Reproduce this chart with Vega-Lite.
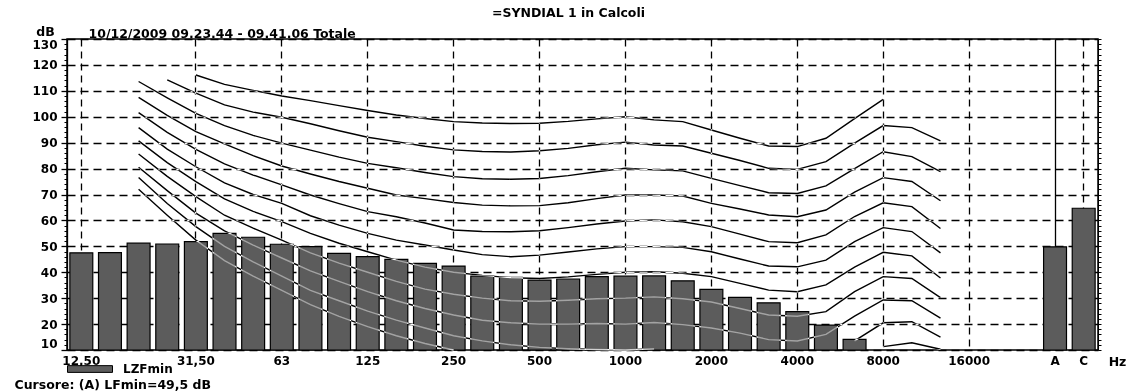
{
  "$schema": "https://vega.github.io/schema/vega-lite/v6.json",
  "autosize": {"type": "none"},
  "padding": {"left": 67, "top": 39, "right": 30, "bottom": 41},
  "width": 1031,
  "height": 311,
  "background": "white",
  "title": {"text": "=SYNDIAL 1 in Calcoli", "anchor": "middle", "font": "DejaVu Sans", "fontSize": 12.5, "fontWeight": "bold", "color": "black", "offset": 6, "dx": -14},
  "config": {
    "view": {"stroke": "black", "strokeWidth": 1.5},
    "axis": {"labelFont": "DejaVu Sans", "labelFontWeight": "bold", "labelFontSize": 12, "labelColor": "black", "titleFont": "DejaVu Sans", "titleFontWeight": "bold", "titleFontSize": 12.5, "titleColor": "black", "domainColor": "black", "tickColor": "black", "gridColor": "black", "gridOpacity": 1},
    "legend": {"labelFont": "DejaVu Sans", "labelFontWeight": "bold", "labelFontSize": 12, "labelColor": "black"}
  },
  "datasets": {
    "bars": [
      {"band": "12,50", "f": 12.5, "LZFmin": 47.5},
      {"band": "16", "f": 16, "LZFmin": 47.6},
      {"band": "20", "f": 20, "LZFmin": 51.2},
      {"band": "25", "f": 25, "LZFmin": 50.9},
      {"band": "31,50", "f": 31.5, "LZFmin": 51.8},
      {"band": "40", "f": 40, "LZFmin": 55.0},
      {"band": "50", "f": 50, "LZFmin": 53.5},
      {"band": "63", "f": 63, "LZFmin": 50.8},
      {"band": "80", "f": 80, "LZFmin": 49.9},
      {"band": "100", "f": 100, "LZFmin": 47.3},
      {"band": "125", "f": 125, "LZFmin": 46.0},
      {"band": "160", "f": 160, "LZFmin": 45.0},
      {"band": "200", "f": 200, "LZFmin": 43.4},
      {"band": "250", "f": 250, "LZFmin": 42.4},
      {"band": "315", "f": 315, "LZFmin": 38.5},
      {"band": "400", "f": 400, "LZFmin": 38.0},
      {"band": "500", "f": 500, "LZFmin": 37.0},
      {"band": "630", "f": 630, "LZFmin": 37.4},
      {"band": "800", "f": 800, "LZFmin": 38.3},
      {"band": "1000", "f": 1000, "LZFmin": 38.5},
      {"band": "1250", "f": 1250, "LZFmin": 38.6},
      {"band": "1600", "f": 1600, "LZFmin": 36.7},
      {"band": "2000", "f": 2000, "LZFmin": 33.4},
      {"band": "2500", "f": 2500, "LZFmin": 30.3},
      {"band": "3150", "f": 3150, "LZFmin": 28.2},
      {"band": "4000", "f": 4000, "LZFmin": 24.8},
      {"band": "5000", "f": 5000, "LZFmin": 19.6},
      {"band": "6300", "f": 6300, "LZFmin": 14.1},
      {"band": "A", "f": 30000, "LZFmin": 49.8},
      {"band": "C", "f": 40000, "LZFmin": 64.7}
    ],
    "curves": [
      {"band": "20", "f": 20, "p100": null, "p90": null, "p80": 113.6, "p70": 107.5, "p60": 101.6, "p50": 95.8, "p40": 90.7, "p30": 85.6, "p20": 80.5, "p10": 76.6, "p0": 72.0},
      {"band": "25", "f": 25, "p100": null, "p90": 114.2, "p80": 107.3, "p70": 100.5, "p60": 94.0, "p50": 87.5, "p40": 82.3, "p30": 77.0, "p20": 71.5, "p10": 66.5, "p0": 62.0},
      {"band": "31,50", "f": 31.5, "p100": 116.1, "p90": 109.1, "p80": 101.3, "p70": 94.3, "p60": 87.4, "p50": 80.7, "p40": 75.0, "p30": 69.2, "p20": 62.8, "p10": 57.6, "p0": 52.4},
      {"band": "40", "f": 40, "p100": 112.5, "p90": 104.6, "p80": 96.6, "p70": 89.5, "p60": 81.8, "p50": 74.5, "p40": 68.3, "p30": 62.0, "p20": 56.0, "p10": 50.0, "p0": 44.5},
      {"band": "50", "f": 50, "p100": 110.2, "p90": 101.8, "p80": 92.8, "p70": 85.0, "p60": 77.5, "p50": 70.0, "p40": 63.5, "p30": 57.0, "p20": 50.5, "p10": 44.0, "p0": 38.5},
      {"band": "63", "f": 63, "p100": 108.0, "p90": 99.8, "p80": 89.8, "p70": 81.0, "p60": 73.7, "p50": 66.6, "p40": 59.5, "p30": 52.4, "p20": 45.5, "p10": 38.5, "p0": 33.0},
      {"band": "80", "f": 80, "p100": 106.2, "p90": 97.3, "p80": 87.1, "p70": 77.9, "p60": 69.8, "p50": 61.8, "p40": 55.0, "p30": 47.5, "p20": 40.5, "p10": 33.0, "p0": 27.5},
      {"band": "100", "f": 100, "p100": 104.3, "p90": 94.6, "p80": 84.4, "p70": 75.0, "p60": 66.5, "p50": 58.2, "p40": 51.2, "p30": 43.5, "p20": 36.5, "p10": 29.0, "p0": 23.0},
      {"band": "125", "f": 125, "p100": 102.4, "p90": 92.1, "p80": 82.0, "p70": 72.4, "p60": 63.4, "p50": 55.0, "p40": 47.9, "p30": 40.0, "p20": 32.5, "p10": 25.0, "p0": 19.0},
      {"band": "160", "f": 160, "p100": 100.7, "p90": 90.4, "p80": 80.3, "p70": 69.8, "p60": 61.4, "p50": 52.4, "p40": 44.7, "p30": 36.5, "p20": 29.0, "p10": 21.5, "p0": 15.5},
      {"band": "200", "f": 200, "p100": 99.3, "p90": 88.6, "p80": 78.5, "p70": 68.4, "p60": 59.0, "p50": 50.5, "p40": 42.0, "p30": 33.5, "p20": 26.0, "p10": 18.5, "p0": 12.5},
      {"band": "250", "f": 250, "p100": 98.1, "p90": 87.2, "p80": 76.9, "p70": 66.9, "p60": 56.3, "p50": 48.6, "p40": 40.0, "p30": 31.5, "p20": 23.5, "p10": 15.5, "p0": 10.0},
      {"band": "315", "f": 315, "p100": 97.6, "p90": 86.6, "p80": 76.1, "p70": 65.9, "p60": 55.7, "p50": 46.8, "p40": 38.8, "p30": 30.0, "p20": 21.5, "p10": 13.5, "p0": null},
      {"band": "400", "f": 400, "p100": 97.4, "p90": 86.4, "p80": 75.9, "p70": 65.6, "p60": 55.6, "p50": 46.0, "p40": 37.9, "p30": 29.0, "p20": 20.5, "p10": 12.0, "p0": null},
      {"band": "500", "f": 500, "p100": 97.5, "p90": 86.9, "p80": 76.2, "p70": 65.7, "p60": 56.0, "p50": 46.6, "p40": 37.6, "p30": 28.8, "p20": 20.0, "p10": 11.0, "p0": null},
      {"band": "630", "f": 630, "p100": 98.2, "p90": 87.8, "p80": 77.3, "p70": 66.8, "p60": 57.2, "p50": 47.8, "p40": 38.2, "p30": 29.2, "p20": 20.0, "p10": 10.5, "p0": null},
      {"band": "800", "f": 800, "p100": 99.2, "p90": 89.2, "p80": 78.8, "p70": 68.4, "p60": 58.6, "p50": 49.0, "p40": 39.2, "p30": 29.8, "p20": 20.2, "p10": 10.2, "p0": null},
      {"band": "1000", "f": 1000, "p100": 100.0, "p90": 90.2, "p80": 80.1, "p70": 69.8, "p60": 59.8, "p50": 49.9, "p40": 40.0, "p30": 30.0, "p20": 20.0, "p10": 10.0, "p0": null},
      {"band": "1250", "f": 1250, "p100": 98.8, "p90": 89.1, "p80": 79.5, "p70": 69.8, "p60": 60.2, "p50": 49.9, "p40": 40.2, "p30": 30.5, "p20": 20.6, "p10": 10.5, "p0": null},
      {"band": "1600", "f": 1600, "p100": 98.1, "p90": 88.7, "p80": 79.1, "p70": 69.4, "p60": 59.5, "p50": 49.6, "p40": 39.6, "p30": 29.8, "p20": 19.8, "p10": null, "p0": null},
      {"band": "2000", "f": 2000, "p100": 94.9, "p90": 85.9, "p80": 76.2, "p70": 66.6, "p60": 57.6, "p50": 47.9, "p40": 38.3, "p30": 28.5, "p20": 18.5, "p10": null, "p0": null},
      {"band": "2500", "f": 2500, "p100": 91.7, "p90": 83.1, "p80": 73.4, "p70": 64.4, "p60": 54.7, "p50": 45.1, "p40": 35.7, "p30": 26.0, "p20": 16.5, "p10": null, "p0": null},
      {"band": "3150", "f": 3150, "p100": 88.7, "p90": 80.1, "p80": 70.7, "p70": 62.1, "p60": 51.8, "p50": 42.4, "p40": 33.1, "p30": 23.5, "p20": 14.0, "p10": null, "p0": null},
      {"band": "4000", "f": 4000, "p100": 88.5, "p90": 79.7, "p80": 70.4, "p70": 61.4, "p60": 51.4, "p50": 42.1, "p40": 32.5, "p30": 23.0, "p20": 13.5, "p10": null, "p0": null},
      {"band": "5000", "f": 5000, "p100": 91.7, "p90": 82.7, "p80": 73.3, "p70": 64.0, "p60": 54.4, "p50": 44.7, "p40": 35.1, "p30": 24.8, "p20": 16.0, "p10": null, "p0": null},
      {"band": "6300", "f": 6300, "p100": 99.3, "p90": 89.8, "p80": 80.0, "p70": 70.9, "p60": 61.5, "p50": 51.8, "p40": 42.0, "p30": 32.5, "p20": 23.1, "p10": 13.5, "p0": null},
      {"band": "8000", "f": 8000, "p100": 106.7, "p90": 96.6, "p80": 86.5, "p70": 76.5, "p60": 66.8, "p50": 57.2, "p40": 47.7, "p30": 38.3, "p20": 29.3, "p10": 20.5, "p0": 11.3},
      {"band": "10000", "f": 10000, "p100": null, "p90": 95.8, "p80": 84.6, "p70": 75.0, "p60": 65.3, "p50": 55.7, "p40": 46.3, "p30": 37.6, "p20": 29.0, "p10": 20.9, "p0": 12.8},
      {"band": "12500", "f": 12500, "p100": null, "p90": 90.7, "p80": 78.8, "p70": 67.6, "p60": 56.9, "p50": 47.5, "p40": 37.8, "p30": 30.2, "p20": 22.3, "p10": 15.0, "p0": 10.3}
    ]
  },
  "resolve": {"axis": {"x": "independent", "y": "independent"}},
  "layer": [
    {
      "data": {"name": "bars"},
      "mark": {"type": "bar", "stroke": "black", "strokeWidth": 1.2},
      "encoding": {
        "x": {
          "field": "band", "type": "ordinal",
          "scale": {"domain": ["12,50","16","20","25","31,50","40","50","63","80","100","125","160","200","250","315","400","500","630","800","1000","1250","1600","2000","2500","3150","4000","5000","6300","8000","10000","12500","16000","g1","g2","A","C"], "paddingInner": 0.2, "paddingOuter": 0.1},
          "axis": {"orient": "bottom", "values": ["12,50","31,50","63","125","250","500","1000","2000","4000","8000","16000","A","C"], "labelAngle": 0, "grid": true, "gridDash": {"condition": {"test": "datum.value === 'A'", "value": []}, "value": [7, 5]}, "gridWidth": 1.3, "bandPosition": 0.5, "ticks": false, "domain": false, "labelPadding": 5, "title": "Cursore: (A) LFmin=49,5 dB", "titleX": -53, "titleY": 38, "titleAlign": "left", "titleBaseline": "alphabetic"}
        },
        "y": {
          "field": "LZFmin", "type": "quantitative",
          "scale": {"domain": [10, 130], "nice": false, "zero": false},
          "axis": {"orient": "left", "values": [10,20,30,40,50,60,70,80,90,100,110,120,130], "grid": true, "gridDash": [8, 5], "gridWidth": 1.3, "tickSize": 6, "tickWidth": 1.3, "labelPadding": 4, "labelFlush": true, "domain": true, "domainWidth": 1.3, "title": "dB", "titleAngle": 0, "titleX": -22, "titleY": -4, "titleAlign": "center", "titleBaseline": "alphabetic"}
        },
        "y2": {"datum": 10},
        "color": {
          "datum": "LZFmin", "type": "nominal",
          "scale": {"range": ["#5c5c5c"]},
          "legend": {"orient": "none", "legendX": 0, "legendY": 307, "title": null, "padding": 0, "symbolType": "M-1,-0.15H1V0.15H-1Z", "symbolSize": 2025, "symbolStrokeColor": "black", "symbolStrokeWidth": 1, "labelOffset": 10}
        }
      }
    },
    {
      "data": {"name": "curves"},
      "transform": [{"fold": ["p100","p90","p80","p70","p60","p50","p40","p30","p20","p10","p0"], "as": ["curve", "L"]}],
      "mark": {"type": "line", "stroke": "white", "strokeWidth": 1.4, "blend": "difference", "invalid": "break-paths-show-domains"},
      "encoding": {
        "x": {"field": "band", "type": "ordinal",
          "axis": {"orient": "top", "labels": false, "ticks": false, "domain": false, "grid": false, "title": "10/12/2009 09.23.44 - 09.41.06  Totale", "titleX": 21, "titleY": -2, "titleAlign": "left", "titleBaseline": "alphabetic"}},
        "y": {"field": "L", "type": "quantitative",
          "axis": {"orient": "right", "values": [10,12,14,16,18,20,22,24,26,28,30,32,34,36,38,40,42,44,46,48,50,52,54,56,58,60,62,64,66,68,70,72,74,76,78,80,82,84,86,88,90,92,94,96,98,100,102,104,106,108,110,112,114,116,118,120,122,124,126,128,130], "labels": false, "tickSize": 3, "grid": false, "domain": true, "title": "Hz", "titleAngle": 0, "titleX": 19, "titleY": 326, "titleAlign": "center", "titleBaseline": "alphabetic"}},
        "detail": {"field": "curve"},
        "order": {"field": "f", "type": "quantitative"}
      }
    },
    {
      "data": {"name": "bars"},
      "mark": {"type": "point", "opacity": 0},
      "encoding": {
        "x": {"field": "band", "type": "ordinal", "axis": null},
        "y": {"field": "LZFmin", "type": "quantitative",
          "axis": {"orient": "left", "values": [10,12,14,16,18,20,22,24,26,28,30,32,34,36,38,40,42,44,46,48,50,52,54,56,58,60,62,64,66,68,70,72,74,76,78,80,82,84,86,88,90,92,94,96,98,100,102,104,106,108,110,112,114,116,118,120,122,124,126,128,130], "labels": false, "tickSize": 3, "grid": false, "domain": false, "title": null}}
      }
    }
  ]
}
